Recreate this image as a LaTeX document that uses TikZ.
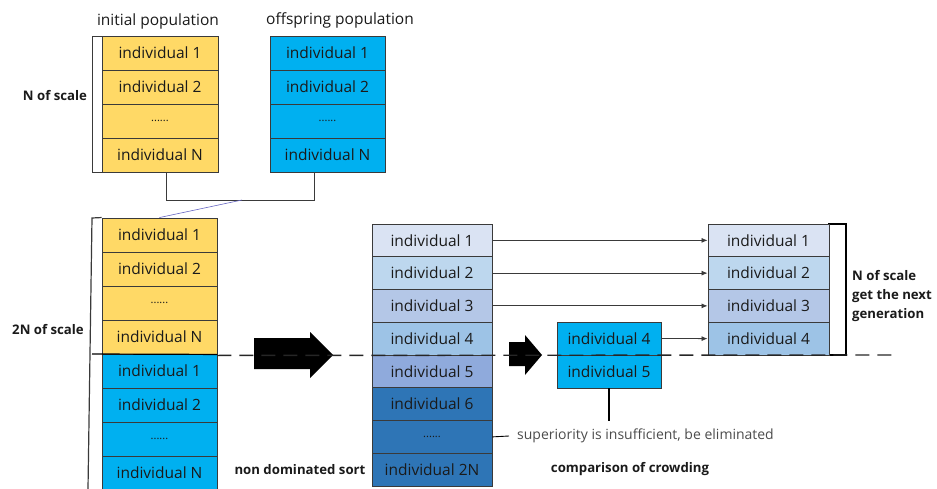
\documentclass[tikz,border=0pt]{standalone}
\usepackage{fontspec}
\setmainfont{Open Sans}
\usetikzlibrary{arrows.meta}
\definecolor{yel}{HTML}{FFD966}
\definecolor{cyn}{HTML}{00B0F0}
\definecolor{bA}{HTML}{DAE3F3}
\definecolor{bB}{HTML}{BDD7EE}
\definecolor{bC}{HTML}{B4C7E7}
\definecolor{bD}{HTML}{9DC3E6}
\definecolor{bE}{HTML}{8FAADC}
\definecolor{bF}{HTML}{2E75B6}
\definecolor{edge}{HTML}{3A3A3A}
\definecolor{txt}{HTML}{1A1A1A}
\begin{document}
\begin{tikzpicture}[x=1pt,y=-1pt,
  cell/.style={draw=edge, line width=0.9pt, inner sep=0pt, text=txt,
    font=\fontsize{15.5}{18}\selectfont},
  popcell/.style={cell, minimum width=116pt, minimum height=34pt},
  sortcell/.style={cell, minimum width=120pt, minimum height=32.75pt},
  crowdcell/.style={cell, minimum width=104pt, minimum height=33pt},
  gencell/.style={cell, minimum width=121pt, minimum height=32.75pt},
  lbl/.style={text=txt, inner sep=0pt, font=\fontsize{15.5}{18}\selectfont},
  boldlbl/.style={text=txt, inner sep=0pt, font=\fontsize{13.2}{18}\selectfont\bfseries},
  thinline/.style={draw=edge, line width=0.9pt},
  flowarrow/.style={draw=edge, line width=0.8pt, -{Latex[length=6pt,width=5pt]}},
  bigarrow/.style={fill=black},
  dashline/.style={draw=black!85, line width=1.4pt, dash pattern=on 14pt off 8pt}
]
\useasboundingbox (0,0) rectangle (937,489);
\clip (0,0) rectangle (937,489);
\newcommand{\dotsrow}{{\fontsize{11}{12}\selectfont ......}}

% ---------- top: initial population ----------
\node[lbl] (tInit) at (158,21) {initial population};
\node[lbl] (tOff) at (340,20) {offspring population};
\draw[thinline, fill=white] (92,36) rectangle (102,172);
\node[boldlbl] (nScale) at (55,96) {N of scale};
\node[popcell, fill=yel] (ip1) at (160,53) {individual 1};
\node[popcell, fill=yel] (ip2) at (160,87) {individual 2};
\node[popcell, fill=yel] (ip3) at (160,121) {\dotsrow};
\node[popcell, fill=yel] (ip4) at (160,155) {individual N};

\node[popcell, fill=cyn, minimum width=115pt] (op1) at (327.5,53) {individual 1};
\node[popcell, fill=cyn, minimum width=115pt] (op2) at (327.5,87) {individual 2};
\node[popcell, fill=cyn, minimum width=115pt] (op3) at (327.5,121) {\dotsrow};
\node[popcell, fill=cyn, minimum width=115pt] (op4) at (327.5,155) {individual N};

\coordinate (j1) at (166,200);
\coordinate (j2) at (314,200);
\coordinate (jm) at (242,200);
\draw[thinline] (ip4.south -| j1) -- (j1) -- (j2) -- (op4.south -| j2);

% ---------- 2N column ----------
\node[popcell, fill=yel, minimum width=115pt] (a1) at (159.5,235) {individual 1};
\node[popcell, fill=yel, minimum width=115pt] (a2) at (159.5,269) {individual 2};
\node[popcell, fill=yel, minimum width=115pt] (a3) at (159.5,303) {\dotsrow};
\node[popcell, fill=yel, minimum width=115pt] (a4) at (159.5,337) {individual N};
\node[popcell, fill=cyn, minimum width=115pt] (a5) at (159.5,371) {individual 1};
\node[popcell, fill=cyn, minimum width=115pt] (a6) at (159.5,405) {individual 2};
\node[popcell, fill=cyn, minimum width=115pt] (a7) at (159.5,439) {\dotsrow};
\node[popcell, fill=cyn, minimum width=115pt] (a8) at (159.5,473) {individual N};
\draw[draw=black!40!blue!60, line width=0.6pt] (jm) -- (a1.north);

\coordinate (bt) at (92,218);
\coordinate (bb) at (88,489);
\draw[thinline, line width=1.2pt] (a1.north west) -- (bt) -- (bb);
\draw[thinline, draw=black, line width=1.2pt] (92,354) -- (a4.south east);
\node[boldlbl] (twoN) at (48,330) {2N of scale};

% ---------- big arrow 1 ----------
\fill[bigarrow] (254,338) -- (310,338) -- (310,332) -- (333,355) -- (310,378) -- (310,369) -- (254,369) -- cycle;
\node[boldlbl] (nds) at (300,470) {non dominated sort};

% ---------- sorted column ----------
\node[sortcell, fill=bA] (s1) at (432,240.375) {individual 1};
\node[sortcell, fill=bB] (s2) at (432,273.125) {individual 2};
\node[sortcell, fill=bC] (s3) at (432,305.875) {individual 3};
\node[sortcell, fill=bD] (s4) at (432,338.625) {individual 4};
\node[sortcell, fill=bE] (s5) at (432,371.375) {individual 5};
\node[sortcell, fill=bF] (s6) at (432,404.125) {individual 6};
\node[sortcell, fill=bF] (s7) at (432,436.875) {\dotsrow};
\node[sortcell, fill=bF] (s8) at (432,469.625) {individual 2N};

% ---------- big arrow 2 ----------
\fill[bigarrow] (509,342) -- (525,342) -- (525,335) -- (542,355) -- (525,375) -- (525,366) -- (509,366) -- cycle;

% ---------- crowding ----------
\node[crowdcell, fill=cyn] (c1) at (609,338.5) {individual 4};
\node[crowdcell, fill=cyn] (c2) at (609,371.5) {individual 5};
\coordinate (ce) at (c2.south |- 0,421);
\draw[thinline, draw=black, line width=1.1pt] (c2.south) -- (ce);
\node[lbl, anchor=west, text=black!70, font=\fontsize{14}{16}\selectfont] (elim) at (517,436) {superiority is insufficient, be eliminated};
\draw[thinline, draw=black] (s7.east) -- ([xshift=-8pt]elim.west);
\node[boldlbl] (cmp) at (630,469) {comparison of crowding};

% ---------- next generation ----------
\draw[thinline, draw=black, fill=white, line width=1.1pt] (829,224) rectangle (846,355);
\node[gencell, fill=bA] (g1) at (768.5,240.375) {individual 1};
\node[gencell, fill=bB] (g2) at (768.5,273.125) {individual 2};
\node[gencell, fill=bC] (g3) at (768.5,305.875) {individual 3};
\node[gencell, fill=bD] (g4) at (768.5,338.625) {individual 4};
\node[boldlbl, anchor=west, align=left, font=\fontsize{13.2}{19}\selectfont\bfseries] (nextgen) at (852,296) {N of scale\\get the next\\generation};

\draw[flowarrow] (s1.east) -- (g1.west);
\draw[flowarrow] (s2.east) -- (g2.west);
\draw[flowarrow] (s3.east) -- (g3.west);
\draw[flowarrow] (c1.east) -- (g4.west);

% ---------- dashed divider ----------
\coordinate (dEnd) at (895,355);
\draw[dashline] (a4.south east) ++(0,1) -- (dEnd);
\end{tikzpicture}
\end{document}
